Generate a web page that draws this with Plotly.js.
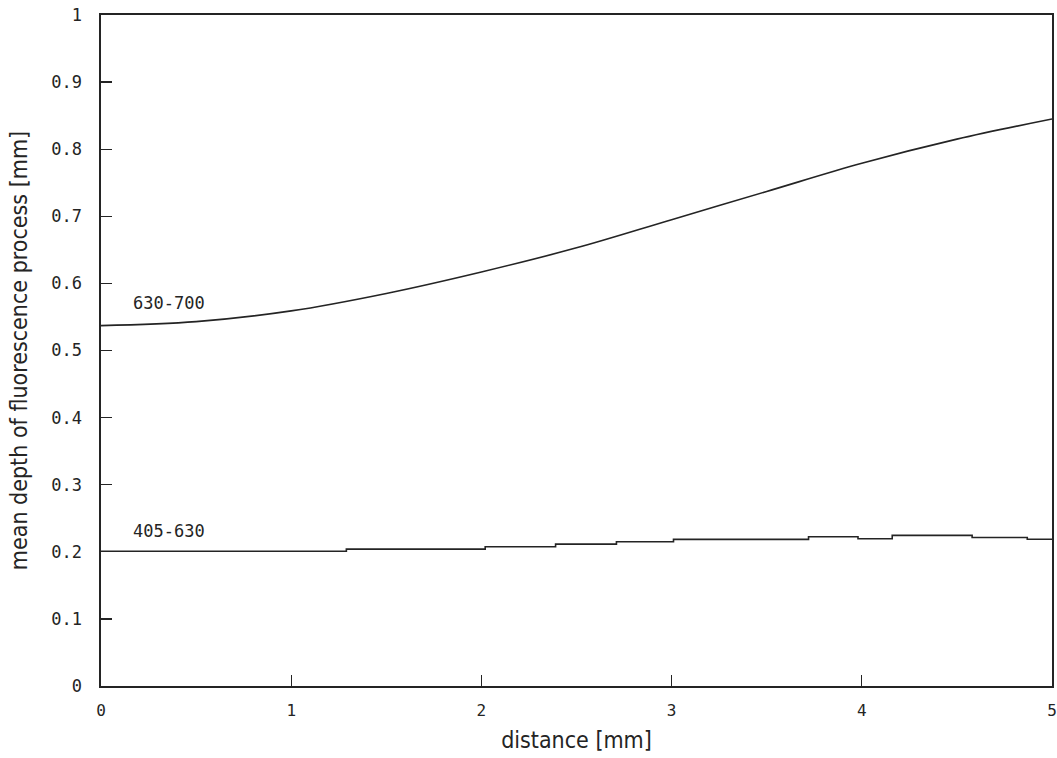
<!DOCTYPE html>
<html>
<head>
<meta charset="utf-8">
<script src="https://cdn.plot.ly/plotly-3.0.1.min.js"></script>
<style>html,body{margin:0;padding:0;background:#fff;}#chart{width:1057px;height:758px;}</style>
</head>
<body>
<div id="chart"></div>
<script>
// Upper curve: 630-700 nm band
const distUpper = [0, 0.5, 1.0, 1.5, 2.0, 2.5, 3.0, 3.5, 4.0, 4.5, 5.0];
const depthUpper = [0.537, 0.543, 0.559, 0.585, 0.617, 0.653, 0.695, 0.737, 0.779, 0.815, 0.845];
// Lower curve: 405-630 nm band (stepped plotter output)
const distLower = [0, 1.29, 2.02, 2.39, 2.71, 3.01, 3.72, 3.98, 4.16, 4.58, 4.87, 5.0];
const depthLower = [0.2008, 0.2040, 0.2075, 0.2115, 0.2150, 0.2185, 0.2225, 0.2195, 0.2245, 0.2212, 0.2188, 0.2188];
const seriesLabels = ["630-700", "405-630"];
const xTicks = [0, 1, 2, 3, 4, 5];
const yTicks = [0, 0.1, 0.2, 0.3, 0.4, 0.5, 0.6, 0.7, 0.8, 0.9, 1];
const xTitle = "distance [mm]";
const yTitle = "mean depth of fluorescence process [mm]";

const ink = "#242424";
const mono = "DejaVu Sans Mono, Liberation Mono, monospace";
const narrow = "Liberation Sans Narrow, DejaVu Sans Condensed, DejaVu Sans Mono, monospace";

const traces = [
  {x: distUpper, y: depthUpper, mode: "lines", line: {color: ink, width: 1.6, shape: "spline"}, hoverinfo: "skip"},
  {x: distLower, y: depthLower, mode: "lines", line: {color: ink, width: 1.6, shape: "hv"}, hoverinfo: "skip"}
];

const layout = {
  width: 1057, height: 758,
  margin: {l: 101, r: 5, t: 15, b: 72},
  paper_bgcolor: "#ffffff", plot_bgcolor: "#ffffff",
  showlegend: false,
  xaxis: {
    range: [0, 5], tickvals: xTicks, ticktext: xTicks.map(String),
    showgrid: false, zeroline: false,
    showline: true, mirror: true, linecolor: ink, linewidth: 1.6,
    ticks: "inside", ticklen: 11, tickwidth: 1.4, tickcolor: ink,
    ticklabelstandoff: 9,
    tickfont: {family: mono, size: 16, color: ink},
    title: {text: xTitle, font: {family: narrow, size: 23, color: ink}, standoff: 13},
    automargin: false
  },
  yaxis: {
    range: [0, 1], tickvals: yTicks, ticktext: yTicks.map(String),
    showgrid: false, zeroline: false,
    showline: true, mirror: true, linecolor: ink, linewidth: 1.6,
    ticks: "inside", ticklen: 11, tickwidth: 1.4, tickcolor: ink,
    ticklabelstandoff: 14,
    tickfont: {family: mono, size: 17, color: ink},
    title: {text: yTitle, font: {family: narrow, size: 23, color: ink}, standoff: 17},
    automargin: false
  },
  annotations: [
    {x: 0.357, y: 0.571, xref: "x", yref: "y", text: seriesLabels[0], showarrow: false,
     font: {family: mono, size: 17, color: ink}},
    {x: 0.36, y: 0.231, xref: "x", yref: "y", text: seriesLabels[1], showarrow: false,
     font: {family: mono, size: 17, color: ink}}
  ]
};

Plotly.newPlot("chart", traces, layout, {staticPlot: true, displayModeBar: false});
</script>
</body>
</html>
